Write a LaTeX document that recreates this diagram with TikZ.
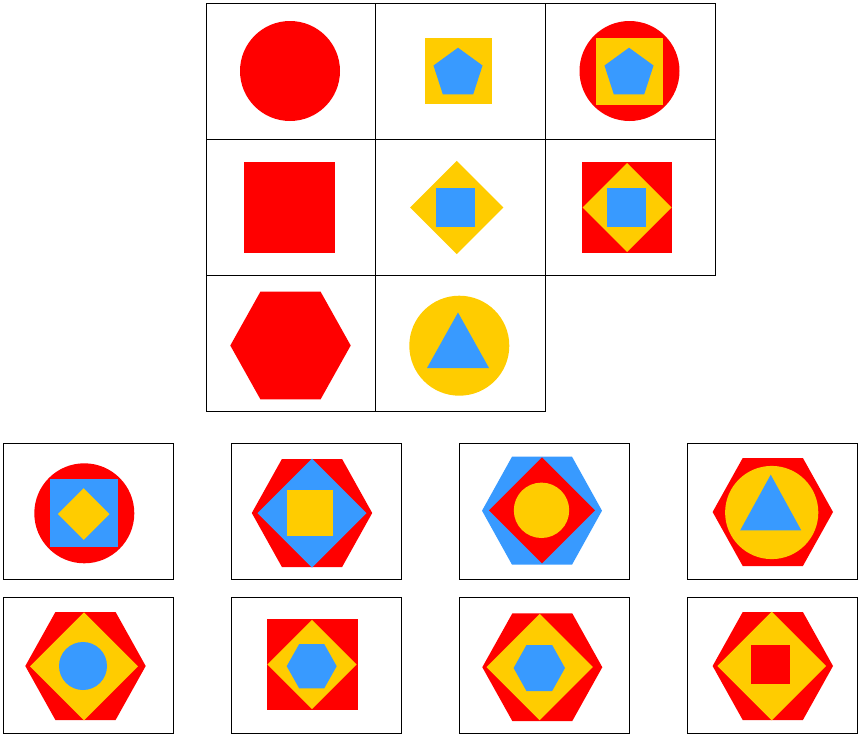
\documentclass[tikz,border=0pt]{standalone}
\usetikzlibrary{calc}
\definecolor{cred}{RGB}{255,0,0}
\definecolor{cyellow}{RGB}{255,204,0}
\definecolor{cblue}{RGB}{56,154,255}

\newcommand{\hexshape}[4]{\fill[#1,shift={(#2)}] (-#3,0) -- (-#3/2,-#4) -- (#3/2,-#4) -- (#3,0) -- (#3/2,#4) -- (-#3/2,#4) -- cycle;}
\newcommand{\diamshape}[3]{\fill[#1,shift={(#2)}] (0,-#3) -- (#3,0) -- (0,#3) -- (-#3,0) -- cycle;}
\newcommand{\sqshape}[3]{\fill[#1,shift={(#2)}] (-#3,-#3) rectangle (#3,#3);}
\newcommand{\circshape}[3]{\fill[#1] (#2) circle[radius=#3];}
\newcommand{\pentshape}[3]{\fill[#1,shift={(#2)}] (-90:#3) -- (-18:#3) -- (54:#3) -- (126:#3) -- (198:#3) -- cycle;}
\newcommand{\trishape}[4]{\fill[#1,shift={(#2)}] (0,0) -- (#3,#4) -- (-#3,#4) -- cycle;}

\begin{document}
\begin{tikzpicture}[
  x=1pt,y=-1pt,
  cell/.style={draw=black,line width=0.9pt}
]
  \useasboundingbox (0,0) rectangle (861,736);

  % matrix
  \foreach \c in {0,1,2}
    \foreach \r in {0,1}
      \draw[cell] (206+169.7*\c,3+136.3*\r) rectangle ++(169.7,136.3);
  \foreach \c in {0,1}
    \draw[cell] (206+169.7*\c,275.6) rectangle ++(169.7,136.3);

  \circshape{cred}{290,71}{50}
  \sqshape{cyellow}{458.5,71}{33.3}
  \pentshape{cblue}{458,73.5}{25.8}
  \circshape{cred}{629.5,71}{50}
  \sqshape{cyellow}{629.2,71}{33.5}
  \pentshape{cblue}{629,73.5}{25.8}

  \sqshape{cred}{289.3,207.5}{45.3}
  \diamshape{cyellow}{456.7,207.5}{46.7}
  \sqshape{cblue}{455.5,207.5}{19.5}
  \sqshape{cred}{627,207.5}{45.3}
  \diamshape{cyellow}{627,207.5}{44.5}
  \sqshape{cblue}{626.5,207.5}{19.5}

  \hexshape{cred}{290.5,345.5}{60.2}{53.8}
  \circshape{cyellow}{459.3,345.7}{50}
  \trishape{cblue}{458,312.5}{31}{55.5}

  % answer options
  \foreach \c in {0,...,3}
    \foreach \r in {0,1}
      \draw[cell] (3+228*\c,443+154.3*\r) rectangle ++(170,136.5);

  \circshape{cred}{84.3,513.3}{50}
  \sqshape{cblue}{84,513}{34}
  \diamshape{cyellow}{83.7,514}{25.8}

  \hexshape{cred}{312,513}{60.2}{54}
  \diamshape{cblue}{312,513}{54.5}
  \sqshape{cyellow}{310.3,512.7}{23}

  \hexshape{cblue}{542,510.7}{60}{54}
  \diamshape{cred}{542,510.3}{53}
  \circshape{cyellow}{541.5,510.3}{27.7}

  \hexshape{cred}{772.8,512}{60.2}{54}
  \circshape{cyellow}{771.7,512.5}{46.6}
  \trishape{cblue}{770.7,474.7}{30.5}{55.6}

  \hexshape{cred}{85.5,666}{60.2}{54}
  \diamshape{cyellow}{84,666.3}{54}
  \circshape{cblue}{83,666}{24}

  \sqshape{cred}{312.2,664.3}{45.5}
  \diamshape{cyellow}{312,664.5}{44.7}
  \hexshape{cblue}{311.7,666.2}{25}{22.2}

  \hexshape{cred}{542.3,667.2}{60}{53.8}
  \diamshape{cyellow}{539.7,667}{53.2}
  \hexshape{cblue}{539.3,668}{25.7}{23}

  \hexshape{cred}{772.8,666}{60.2}{54}
  \diamshape{cyellow}{771.7,666}{54.3}
  \sqshape{cred}{770.5,664.3}{19.5}
\end{tikzpicture}
\end{document}
